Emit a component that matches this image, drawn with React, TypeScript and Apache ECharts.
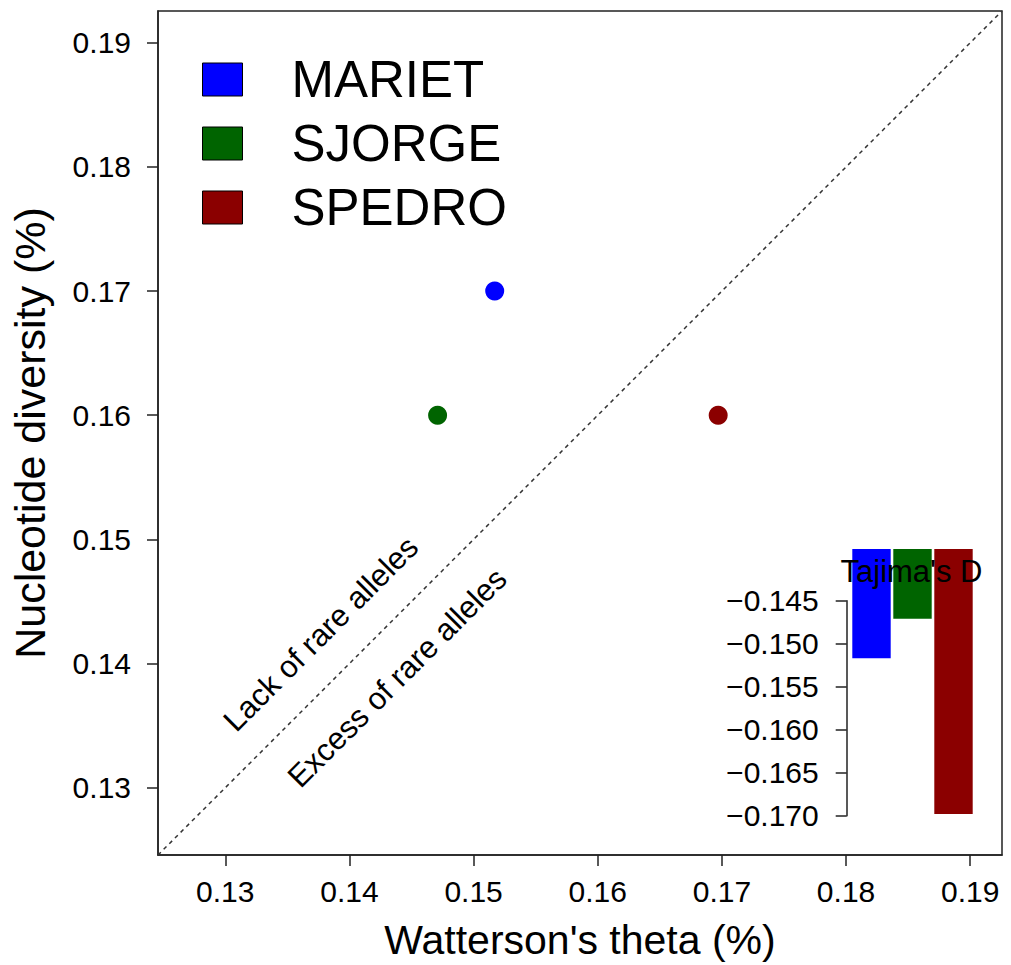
import React, { useEffect, useRef } from "react";
import * as echarts from "echarts";

// Population summary statistics
const groups = ["MARIET", "SJORGE", "SPEDRO"];
const groupColors = ["#0000FF", "#006400", "#8B0000"];
const wattersonTheta = [0.1517, 0.1471, 0.1697];
const nucleotideDiversity = [0.17, 0.16, 0.16];
const tajimaD = [-0.1517, -0.1471, -0.1698];

// Axis ticks
const mainTicks = [0.13, 0.14, 0.15, 0.16, 0.17, 0.18, 0.19];
const AX_MIN = 0.12458;
const AX_MAX = 0.19256;
const INSET_MIN = -0.17;
const INSET_MAX = -0.145;
const INSET_TOP = -0.13899;
const INSET_STEP = 0.005;

// Annotation texts placed either side of the 1:1 line
const annotations = [
  { text: "Lack of rare alleles", x: 0.1377, y: 0.1424 },
  { text: "Excess of rare alleles", x: 0.14384, y: 0.13885 },
];

const FONT = "'Liberation Sans', Arial, Helvetica, sans-serif";

export default function App() {
  const ref = useRef<HTMLDivElement>(null);

  useEffect(() => {
    if (!ref.current) return;
    const chart = echarts.init(ref.current, null, { renderer: "svg" });

    const tickStyle = { color: "#222", width: 1.5 };

    const scatterSeries = groups.map((g, i) => ({
      name: g,
      type: "scatter",
      xAxisIndex: 0,
      yAxisIndex: 0,
      symbol: "circle",
      symbolSize: 19,
      itemStyle: { color: groupColors[i], opacity: 1 },
      data: [[wattersonTheta[i], nucleotideDiversity[i]]],
      z: 5,
    }));

    const option: any = {
      animation: false,
      backgroundColor: "#ffffff",
      textStyle: { fontFamily: FONT },
      legend: {
        orient: "vertical",
        left: 197,
        top: 42.5,
        itemWidth: 40,
        itemHeight: 33,
        itemGap: 0,
        icon: "rect",
        itemStyle: { borderColor: "#000", borderWidth: 1, opacity: 1 },
        selectedMode: false,
        data: groups,
        textStyle: {
          fontSize: 51,
          lineHeight: 64,
          color: "#000",
          fontFamily: FONT,
          padding: [0, 0, 0, 44],
        },
      },
      grid: [
        {
          left: 155,
          top: 11,
          width: 847,
          height: 844,
          show: true,
          borderColor: "#222",
          borderWidth: 1.5,
          backgroundColor: "transparent",
        },
        { left: 851, top: 549, width: 123, height: 266.7 },
        { left: 846.7, top: 600.7, width: 1, height: 215 },
      ],
      xAxis: [
        {
          type: "value",
          gridIndex: 0,
          min: AX_MIN,
          max: AX_MAX,
          splitLine: { show: false },
          axisLine: { show: true, onZero: false, lineStyle: tickStyle },
          axisTick: {
            show: true,
            length: 11,
            customValues: mainTicks,
            lineStyle: tickStyle,
          },
          axisLabel: {
            customValues: mainTicks,
            formatter: (v: number) => v.toFixed(2),
            fontSize: 30,
            margin: 21,
            color: "#000",
            fontFamily: FONT,
          },
          name: "Watterson's theta (%)",
          nameLocation: "middle",
          nameGap: 64,
          nameTextStyle: { fontSize: 41, color: "#000", fontFamily: FONT },
        },
        {
          type: "category",
          gridIndex: 1,
          data: groups,
          show: false,
        },
        {
          type: "value",
          gridIndex: 2,
          show: false,
          min: 0,
          max: 1,
        },
      ],
      yAxis: [
        {
          type: "value",
          gridIndex: 0,
          min: AX_MIN,
          max: AX_MAX,
          splitLine: { show: false },
          axisLine: { show: true, onZero: false, lineStyle: tickStyle },
          axisTick: {
            show: true,
            length: 11,
            customValues: mainTicks,
            lineStyle: tickStyle,
          },
          axisLabel: {
            customValues: mainTicks,
            formatter: (v: number) => v.toFixed(2),
            fontSize: 30,
            margin: 27,
            color: "#000",
            fontFamily: FONT,
          },
          name: "Nucleotide diversity (%)",
          nameLocation: "middle",
          nameGap: 107,
          nameTextStyle: { fontSize: 43, color: "#000", fontFamily: FONT },
        },
        {
          type: "value",
          gridIndex: 1,
          min: INSET_MIN,
          max: INSET_TOP,
          show: false,
          splitLine: { show: false },
        },
        {
          type: "value",
          gridIndex: 2,
          min: INSET_MIN,
          max: INSET_MAX,
          interval: INSET_STEP,
          splitLine: { show: false },
          axisLine: { show: true, onZero: false, lineStyle: tickStyle },
          axisTick: { show: true, length: 11, lineStyle: tickStyle },
          axisLabel: {
            formatter: (v: number) => "\u2212" + Math.abs(v).toFixed(3),
            fontSize: 30,
            margin: 28,
            color: "#000",
            fontFamily: FONT,
          },
        },
      ],
      series: [
        {
          name: "1:1",
          type: "line",
          xAxisIndex: 0,
          yAxisIndex: 0,
          showSymbol: false,
          symbol: "none",
          silent: true,
          data: [
            [AX_MIN, AX_MIN],
            [AX_MAX, AX_MAX],
          ],
          lineStyle: { color: "#333", width: 1.5, type: [4, 4] },
          z: 1,
        },
        {
          name: "annotations",
          type: "scatter",
          xAxisIndex: 0,
          yAxisIndex: 0,
          symbolSize: 1,
          itemStyle: { color: "transparent", opacity: 1 },
          silent: true,
          data: annotations.map((a) => ({
            value: [a.x, a.y],
            label: {
              show: true,
              formatter: a.text,
              position: "inside",
              rotate: 45,
              align: "center",
              verticalAlign: "middle",
              fontSize: 31,
              color: "#000",
              opacity: 1,
              fontFamily: FONT,
            },
          })),
          z: 3,
        },
        ...scatterSeries,
        {
          name: "Tajima's D",
          type: "bar",
          xAxisIndex: 1,
          yAxisIndex: 1,
          barWidth: 38.4,
          clip: true,
          data: tajimaD.map((v, i) => ({
            value: v,
            itemStyle: { color: groupColors[i] },
          })),
          z: 4,
        },
      ],
      graphic: [
        {
          type: "text",
          x: 911.5,
          y: 571,
          z: 100,
          style: {
            text: "Tajima's D",
            fontSize: 31,
            fontFamily: FONT,
            fill: "#000",
            textAlign: "center",
            textVerticalAlign: "middle",
          },
        },
      ],
    };

    chart.setOption(option);
    return () => chart.dispose();
  }, []);

  return (
    <div
      ref={ref}
      style={{
        position: "fixed",
        left: 0,
        top: 0,
        width: 1011,
        height: 965,
        background: "#ffffff",
      }}
    />
  );
}
